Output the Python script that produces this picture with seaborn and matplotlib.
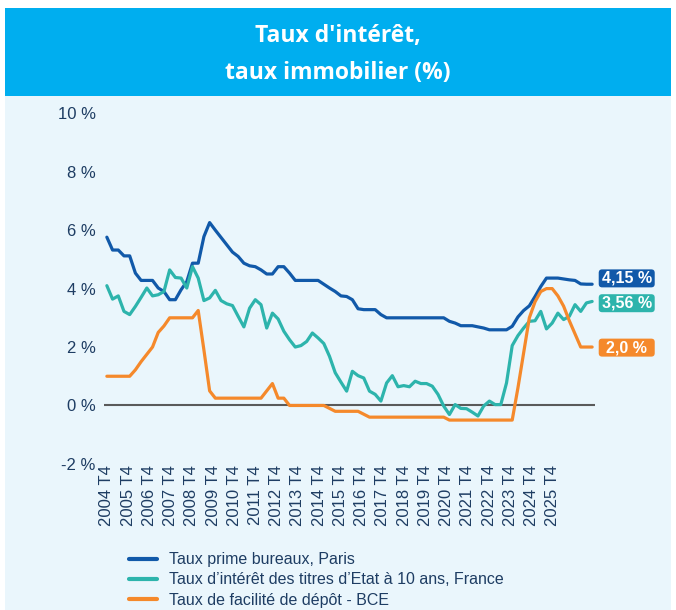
import numpy as np
import pandas as pd
import matplotlib
matplotlib.use('Agg')
import matplotlib.pyplot as plt
import seaborn as sns
from matplotlib.patches import Rectangle, FancyBboxPatch

#### data (quarterly points)
quarters = np.arange(86)

prime_bureaux = [5.76, 5.32, 5.32, 5.12, 5.12, 4.53, 4.28, 4.28, 4.28, 4.02,
                 3.90, 3.62, 3.62, 3.96, 4.24, 4.87, 4.87, 5.78, 6.26, 6.00,
                 5.75, 5.50, 5.25, 5.10, 4.87, 4.78, 4.75, 4.64, 4.50, 4.50,
                 4.75, 4.75, 4.53, 4.28, 4.28, 4.28, 4.28, 4.28, 4.15, 4.02,
                 3.90, 3.75, 3.73, 3.62, 3.31, 3.28, 3.28, 3.28, 3.11, 3.00,
                 3.00, 3.00, 3.00, 3.00, 3.00, 3.00, 3.00, 3.00, 3.00, 3.00,
                 2.88, 2.82, 2.73, 2.73, 2.73, 2.69, 2.65, 2.59, 2.59, 2.59,
                 2.59, 2.71, 3.03, 3.25, 3.41, 3.73, 4.07, 4.36, 4.36, 4.36,
                 4.33, 4.30, 4.28, 4.16, 4.15, 4.15]

oat_10ans = [4.10, 3.64, 3.75, 3.22, 3.11, 3.39, 3.70, 4.02, 3.75, 3.79,
             3.90, 4.64, 4.38, 4.36, 4.02, 4.75, 4.36, 3.59, 3.68, 3.94,
             3.59, 3.48, 3.42, 3.05, 2.69, 3.33, 3.62, 3.45, 2.65, 3.16,
             2.96, 2.54, 2.25, 2.00, 2.05, 2.19, 2.48, 2.31, 2.12, 1.68,
             1.12, 0.80, 0.49, 1.17, 1.02, 0.94, 0.49, 0.38, 0.15, 0.77,
             1.02, 0.64, 0.68, 0.64, 0.83, 0.75, 0.75, 0.66, 0.38, -0.02,
             -0.31, 0.03, -0.10, -0.11, -0.23, -0.36, -0.02, 0.15, 0.03, 0.03,
             0.77, 2.05, 2.39, 2.65, 2.88, 2.90, 3.22, 2.62, 2.82, 3.16,
             2.94, 3.05, 3.45, 3.22, 3.51, 3.56]

depot_bce = [1.00, 1.00, 1.00, 1.00, 1.00, 1.22, 1.50, 1.75, 2.00, 2.50,
             2.72, 3.00, 3.00, 3.00, 3.00, 3.00, 3.25, 1.90, 0.50, 0.25,
             0.25, 0.25, 0.25, 0.25, 0.25, 0.25, 0.25, 0.25, 0.50, 0.75,
             0.25, 0.25, 0.00, 0.00, 0.00, 0.00, 0.00, 0.00, 0.00, -0.10,
             -0.20, -0.20, -0.20, -0.20, -0.20, -0.30, -0.40, -0.40, -0.40, -0.40,
             -0.40, -0.40, -0.40, -0.40, -0.40, -0.40, -0.40, -0.40, -0.40, -0.40,
             -0.50, -0.50, -0.50, -0.50, -0.50, -0.50, -0.50, -0.50, -0.50, -0.50,
             -0.50, -0.50, 0.60, 1.80, 3.00, 3.55, 3.90, 4.00, 4.00, 3.75,
             3.40, 2.90, 2.45, 2.00, 2.00, 2.00]

series_names = ['Taux prime bureaux, Paris',
                'Taux d\u2019intérêt des titres d\u2019Etat à 10 ans, France',
                'Taux de facilité de dépôt - BCE']
series_colors = ['#1159A9', '#2DB4AC', '#F5892B']

year_labels = ['2004 T4', '2005 T4', '2006 T4', '2007 T4', '2008 T4', '2009 T4',
               '2010 T4', '2011 T4', '2012 T4', '2013 T4', '2014 T4', '2015 T4',
               '2016 T4', '2017 T4', '2018 T4', '2019 T4', '2020 T4', '2021 T4',
               '2022 T4', '2023 T4', '2024 T4', '2025 T4']
y_ticks = [-2, 0, 2, 4, 6, 8, 10]
end_labels = ['4,15 %', '3,56 %', '2,0 %']

# long format for seaborn
df = pd.DataFrame({'q': quarters,
                   series_names[0]: prime_bureaux,
                   series_names[1]: oat_10ans,
                   series_names[2]: depot_bce})
long = df.melt(id_vars='q', var_name='serie', value_name='taux')

navy = '#1E3D63'
bg = '#EAF6FC'

sns.set_theme(style='white')
plt.rcParams['font.family'] = ['Liberation Sans', 'DejaVu Sans']

fig = plt.figure(figsize=(6.76, 6.10), dpi=100)
fig.patch.set_facecolor('white')
# light background + title band
fig.add_artist(Rectangle((5/676, 0), 666/676, 1 - 96/610, transform=fig.transFigure,
                         facecolor=bg, edgecolor='none', zorder=0))
fig.add_artist(Rectangle((5/676, 1 - 96/610), 666/676, 88/610, transform=fig.transFigure,
                         facecolor='#00AEEF', edgecolor='none', zorder=0))
fig.text(0.5, 1 - 36/610, "Taux d'intérêt,", color='white', ha='center', va='center',
         fontsize=16.5, fontweight='bold', family=['Open Sans', 'DejaVu Sans'])
fig.text(0.5, 1 - 73/610, "taux immobilier (%)", color='white', ha='center', va='center',
         fontsize=16.5, fontweight='bold', family=['Open Sans', 'DejaVu Sans'])

ax = fig.add_axes([104/676, 1 - 463.9/610, 491/676, 350.6/610])
ax.set_facecolor('none')

ax.axhline(0, color='#5A5A5A', lw=1.5, zorder=1)
sns.lineplot(data=long, x='q', y='taux', hue='serie', hue_order=series_names,
             palette=series_colors, linewidth=2.3, ax=ax, zorder=3)

ax.set_xlim(-0.5, 85.5)
ax.set_ylim(-2, 10)
ax.set_xticks(np.linspace(0, 78.1, len(year_labels)))
ax.set_xticklabels(year_labels, rotation=90)
ax.set_yticks(y_ticks)
ax.set_yticklabels([f'{t} %' for t in y_ticks])
ax.tick_params(axis='both', length=0, colors=navy, labelsize=12)
ax.tick_params(axis='x', pad=1)
ax.tick_params(axis='y', pad=6)
ax.set_xlabel('')
ax.set_ylabel('')
sns.despine(ax=ax, left=True, bottom=True)
ax.grid(False)

# end value boxes
label_y = [4.35, 3.50, 1.98]
for txt, yc, col in zip(end_labels, label_y, series_colors):
    box = FancyBboxPatch((86.15, yc - 0.308), 9.81, 0.616,
                         boxstyle='round,pad=0,rounding_size=0.6', mutation_aspect=0.195,
                         facecolor=col, edgecolor='none', clip_on=False, zorder=4)
    ax.add_patch(box)
    ax.text(86.15 + 4.9, yc, txt, color='white', fontsize=11.5, fontweight='bold',
            ha='center', va='center', clip_on=False, zorder=5)

leg = ax.legend(loc='center left', bbox_to_anchor=(129.3/676, 1 - 580/610),
                bbox_transform=fig.transFigure, frameon=False, fontsize=11.5,
                handlelength=1.75, handletextpad=0.75, labelspacing=0.32,
                borderpad=0, borderaxespad=0, labelcolor=navy)
for h in leg.get_lines():
    h.set_linewidth(3)

plt.savefig('out.png', dpi=100)
